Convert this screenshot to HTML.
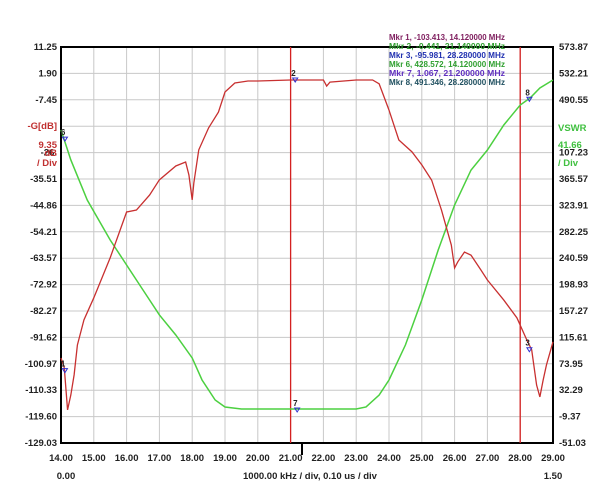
<!DOCTYPE html>
<html><head><meta charset="utf-8"><style>
body{margin:0;background:#fff;width:616px;height:493px;overflow:hidden}
svg text{font-family:"Liberation Sans",sans-serif;font-weight:bold}
</style></head><body>
<svg id="c" width="616" height="493" font-size="9.5"></svg>
<script>
const xTicks=[14,15,16,17,18,19,20,21,22,23,24,25,26,27,28,29];
const leftTicks=["11.25","1.90","-7.45","","-26.","-35.51","-44.86","-54.21","-63.57","-72.92","-82.27","-91.62","-100.97","-110.33","-119.60","-129.03"];
const rightTicks=["573.87","532.21","490.55","","107.23","365.57","323.91","282.25","240.59","198.93","157.27","115.61","73.95","32.29","-9.37","-51.03"];
const gainFreq=[14.0,14.1,14.2,14.3,14.4,14.5,14.7,15.0,15.5,16.0,16.3,16.7,17.0,17.5,17.8,17.9,18.0,18.05,18.2,18.5,18.8,19.0,19.3,19.7,20.0,21.0,21.8,22.0,22.1,22.2,23.0,23.5,23.7,24.0,24.3,24.7,25.0,25.3,25.6,25.9,26.0,26.1,26.3,26.5,26.8,27.0,27.5,27.9,28.2,28.35,28.5,28.6,28.7,28.8,29.0];
const gainDb=[-98.9,-102.4,-117.3,-112,-104.9,-94.3,-85.4,-77.6,-63.4,-47.2,-46.5,-41.2,-35.8,-30.9,-29.5,-34.1,-42.9,-36.9,-25.2,-17.4,-11.8,-4.7,-1.5,-0.8,-0.8,-0.44,-0.44,-0.44,-2.6,-1.2,-0.44,-0.44,-1.8,-11.1,-21.7,-25.9,-30.5,-35.9,-46.5,-58.9,-67,-64.8,-61.4,-62.5,-67.7,-71.3,-78.4,-84.7,-92.5,-96,-108.5,-112.7,-106.7,-101.4,-93.2];
const vswrFreq=[14.0,14.3,14.8,15.5,16.0,16.5,17.0,17.5,18.0,18.3,18.7,19.0,19.5,21.0,23.0,23.3,23.7,24.0,24.5,25.0,25.5,26.0,26.5,27.0,27.5,28.0,28.3,28.6,29.0];
const vswrVal=[442.9,395.6,332.4,269.3,229.9,190.4,151,119.4,83.1,48.4,16.8,5.8,2.6,2.6,2.6,5.8,24.7,48.4,103.6,174.6,253.5,324.5,379.6,411.3,450.8,482.3,493.4,509.2,521.8];
const markers=[["1",14.12,-103.413,"g"],["2",21.14,-0.441,"g"],["3",28.28,-95.981,"g"],["6",14.12,428.572,"v"],["7",21.2,1.067,"v"],["8",28.28,491.346,"v"]];
const markerLines=[21,28];
const L=61,R=553,T=47,B=443;
const xs=f=>L+(f-14)/15*(R-L);
const yl=v=>T+(11.25-v)/140.28*(B-T);
const yr=v=>T+(573.87-v)/624.9*(B-T);
const s=document.getElementById('c');const NS="http://www.w3.org/2000/svg";
function el(t,a,txt){const e=document.createElementNS(NS,t);for(const k in a)e.setAttribute(k,a[k]);if(txt!==undefined)e.textContent=txt;s.appendChild(e);return e;}
xTicks.forEach((f,i)=>{const x=xs(f);
const g=el('line',{x1:x,x2:x,y1:T,y2:B,stroke:'#c8c8c8'});


const t=el('text',{x:x,y:461,'text-anchor':'middle',fill:'#222'},f.toFixed(2));

});
leftTicks.forEach((lab,i)=>{const y=T+i*(B-T)/15;
const g=el('line',{x1:L,x2:R,y1:y,y2:y,stroke:'#c8c8c8'});


if(lab){const t=el('text',{x:57,y:y+3,'text-anchor':'end',fill:'#222'},lab);

}
const r=rightTicks[i];if(r){const t2=el('text',{x:559,y:y+3,fill:'#222'},r);

}});
const fr=el('rect',{x:L,y:T,width:R-L,height:B-T,fill:'none',stroke:'#000','stroke-width':2});


el('line',{x1:302,x2:302,y1:B,y2:455,stroke:'#000','stroke-width':2});
markerLines.forEach(f=>{const m=el('line',{x1:xs(f),x2:xs(f),y1:T,y2:B,stroke:'#d42020','stroke-width':1.3});

});
const vp=el('polyline',{points:vswrFreq.map((f,i)=>xs(f)+','+yr(vswrVal[i])).join(' '),fill:'none',stroke:'#4cd040','stroke-width':1.5});


const gp=el('polyline',{points:gainFreq.map((f,i)=>xs(f)+','+yl(gainDb[i])).join(' '),fill:'none',stroke:'#c83030','stroke-width':1.3});


markers.forEach(m=>{const x=xs(m[1]),y=m[3]=='g'?yl(m[2]):yr(m[2]);
const p=el('path',{d:`M${x-2.5},${y-2} L${x+2.5},${y-2} L${x},${y+2} Z`,fill:'none',stroke:'#3030d0'});


el('text',{x:x-4,y:y-4,fill:'#222','font-size':'8'},m[0]);});
const info=[["Mkr 1, -103.413, 14.120000 MHz","#802060"],["Mkr 2, -0.441, 21.140000 MHz","#30a030"],["Mkr 3, -95.981, 28.280000 MHz","#2030b0"],["Mkr 6, 428.572, 14.120000 MHz","#30a030"],["Mkr 7, 1.067, 21.200000 MHz","#6030c0"],["Mkr 8, 491.346, 28.280000 MHz","#205060"]];
info.forEach((m,i)=>{const t=el('text',{x:389,y:40+i*9,fill:m[1],'font-size':'8','textLength':116,'lengthAdjust':'spacingAndGlyphs'},m[0]);

});
[["-G[dB]",129,'#c03030',57,'end'],["9.35",148,'#c03030',57,'end'],["dB",156,'#c03030',57,'end'],["/ Div",166,'#c03030',57,'end'],["VSWR",131,'#40c040',558,'start'],["41.66",148,'#40c040',558,'start'],["/ Div",166,'#40c040',558,'start']].forEach(a=>{const t=el('text',{x:a[3],y:a[1],fill:a[2],'text-anchor':a[4]},a[0]);

});
el('text',{x:66,y:479,'text-anchor':'middle',fill:'#222'},"0.00");
el('text',{x:553,y:479,'text-anchor':'middle',fill:'#222'},"1.50");
const xt=el('text',{x:310,y:479,'text-anchor':'middle',fill:'#222'},"1000.00 kHz / div, 0.10 us / div");


</script>
</body></html>
